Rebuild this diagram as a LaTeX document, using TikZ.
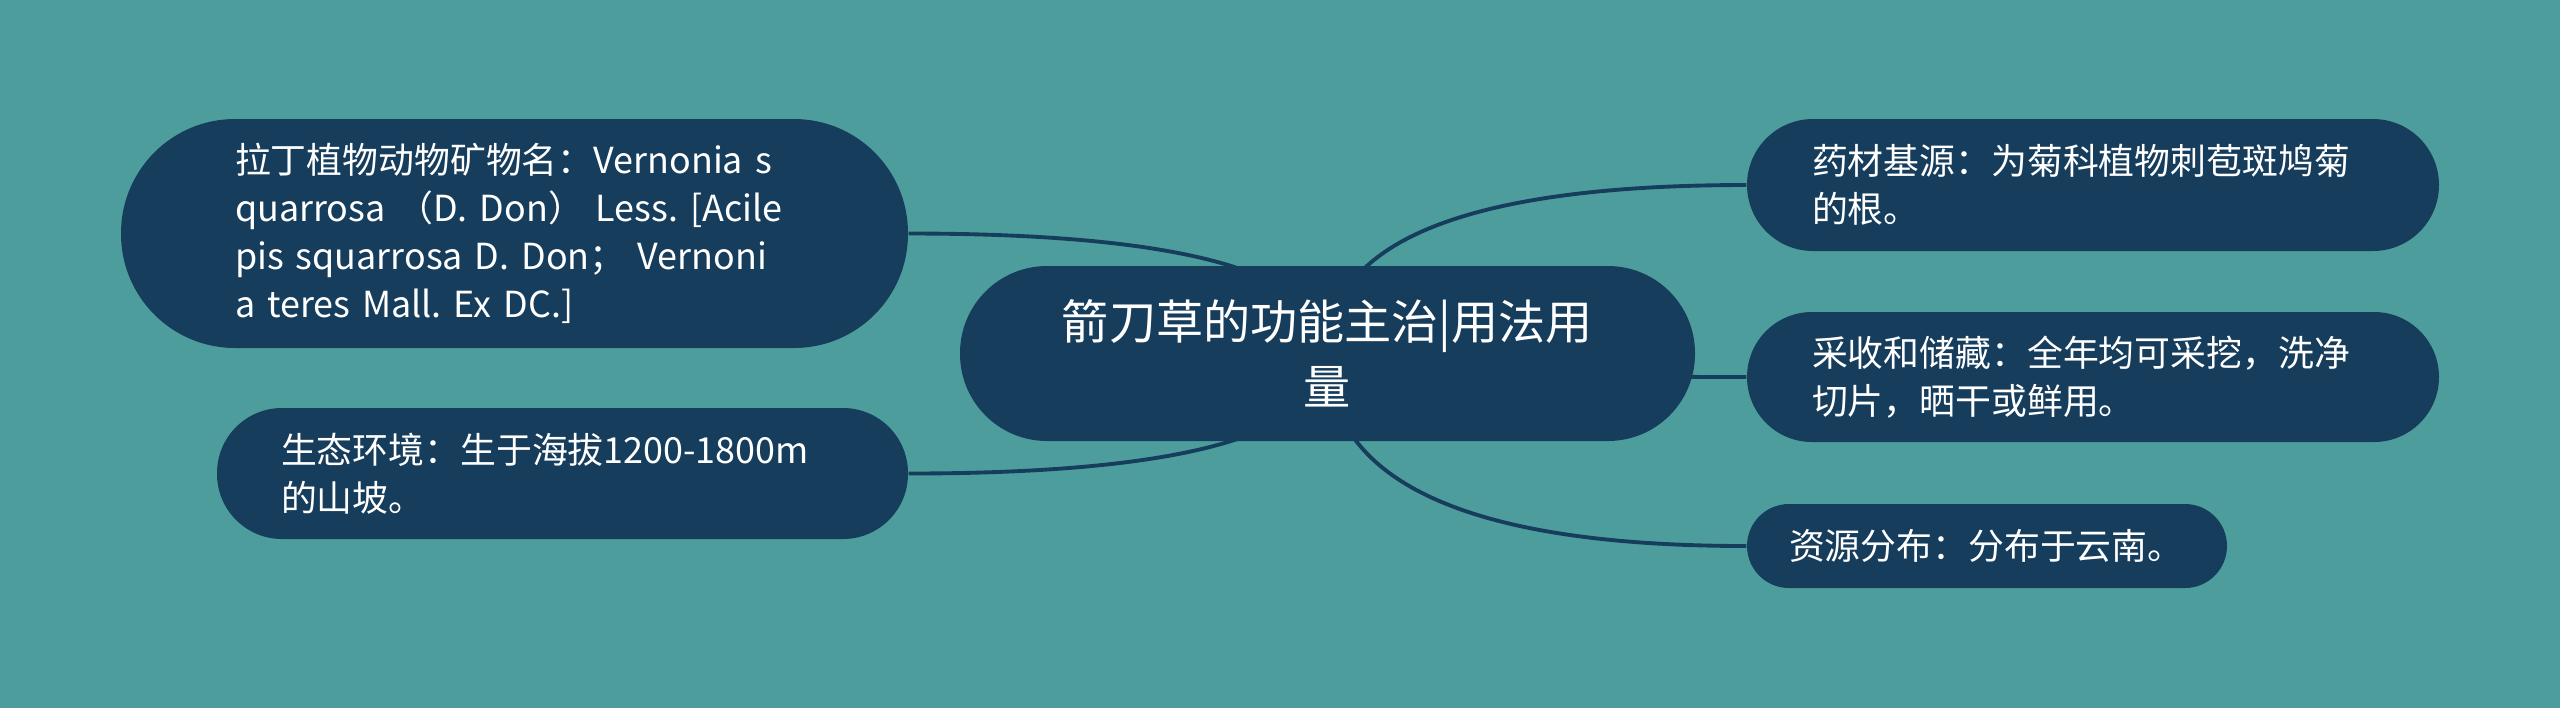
\documentclass[tikz,border=0pt]{standalone}
\usepackage{fontspec}
\setmainfont{Noto Sans CJK SC}
\usetikzlibrary{backgrounds,calc}
\frenchspacing
\newlength{\du}
\setlength{\du}{0.01cm}
\definecolor{bgcolor}{RGB}{78,157,157}
\definecolor{topiccolor}{RGB}{23,61,92}
\tikzset{
  topic/.style={fill=topiccolor, text=white, inner ysep=0pt, align=left,
    font=\fontsize{10.2pt}{13.66pt}\selectfont\frenchspacing},
  maintopic/.style={topic, inner sep=0pt, align=center, font=\fontsize{13.4pt}{18.5pt}\selectfont},
  branch/.style={draw=topiccolor, line width=1.1pt},
}
% quadratic branch from the root, bend point below/above the root centre
\newcommand{\branchto}[1]{%
\draw[branch] (root.center) .. controls ($(root.center)!2/3!(root.center |- #1)$) and ($(#1)!2/3!(root.center |- #1)$) .. (#1);}

\begin{document}
\begin{tikzpicture}
\pgftransformxscale{1.000000}
\pgftransformyscale{-1.000000}
\useasboundingbox (0.000000\du,0.000000\du) rectangle (2560.000000\du,708.000000\du);
% root
\node[maintopic, minimum width=735.000000\du, minimum height=175.000000\du, rounded corners=87.000000\du] (root) at (1327.500000\du,353.500000\du){箭刀草的功能主治|用法用\\量};
% left side
\node[topic, inner xsep=114.000000\du, text width=559.000000\du, minimum height=229.000000\du, rounded corners=114.000000\du] (latin) at (514.500000\du,233.500000\du){拉丁植物动物矿物名：Vernonia s\\quarrosa （D. Don） Less. [Acile\\pis squarrosa D. Don； Vernoni\\a teres Mall. Ex DC.]};
\node[topic, inner xsep=64.000000\du, text width=563.000000\du, minimum height=131.000000\du, rounded corners=65.000000\du] (habitat) at (562.500000\du,473.500000\du){生态环境：生于海拔1200-1800m\\的山坡。};
% right side
\node[topic, inner xsep=65.000000\du, text width=562.000000\du, minimum height=132.000000\du, rounded corners=66.000000\du] (source) at (2093.000000\du,185.000000\du){药材基源：为菊科植物刺苞斑鸠菊\\的根。};
\node[topic, inner xsep=65.000000\du, text width=562.000000\du, minimum height=130.000000\du, rounded corners=65.000000\du] (harvest) at (2093.000000\du,377.000000\du){采收和储藏：全年均可采挖，洗净\\切片，晒干或鲜用。};
\node[topic, inner xsep=42.000000\du, text width=396.000000\du, minimum height=84.000000\du, rounded corners=42.000000\du] (spread) at (1987.000000\du,546.000000\du){资源分布：分布于云南。};
\begin{pgfonlayer}{background}
\fill[bgcolor] (0.000000\du,0.000000\du) rectangle (2560.000000\du,708.000000\du);
\branchto{latin.east}
\branchto{habitat.east}
\branchto{source.west}
\branchto{harvest.west}
\branchto{spread.west}
\end{pgfonlayer}
\end{tikzpicture}
\end{document}
